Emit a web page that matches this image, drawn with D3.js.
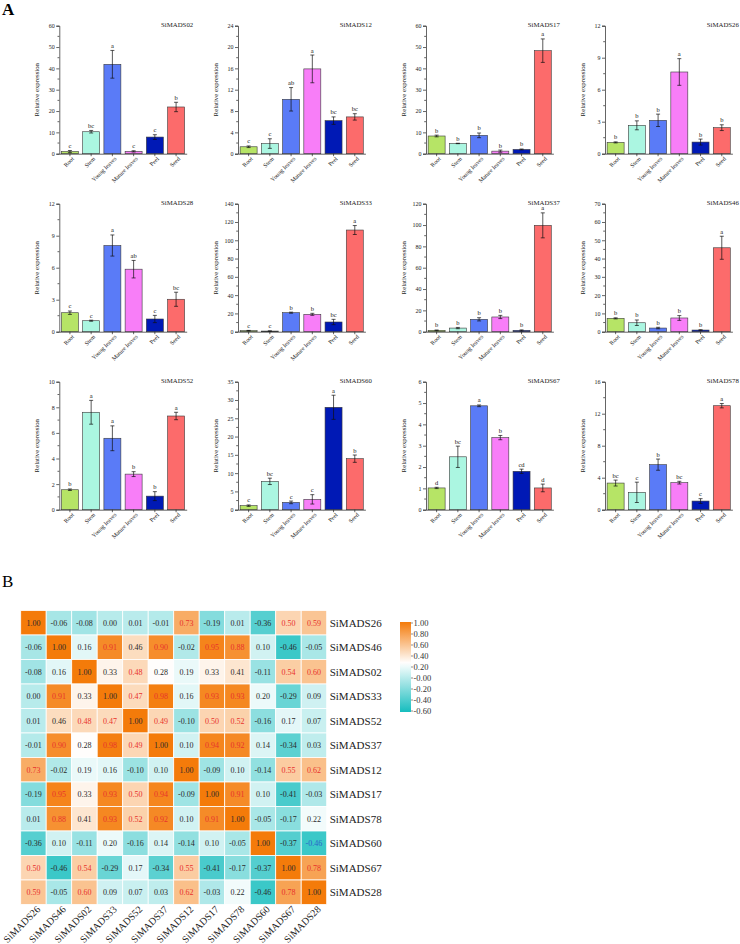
<!DOCTYPE html>
<html><head><meta charset="utf-8">
<script src="https://cdn.jsdelivr.net/npm/d3@7"></script>
<style>
body{margin:0;background:#fff;}
svg{display:block;font-family:"Liberation Serif","Times New Roman",serif;}
</style></head>
<body><svg id="c" width="740" height="944"></svg>
<script>
// ---------- DATA ----------
const tissues = ["Root","Stem","Young leaves","Mature leaves","Peel","Seed"];
const genes = ["SiMADS02","SiMADS12","SiMADS17","SiMADS26",
               "SiMADS28","SiMADS33","SiMADS37","SiMADS46",
               "SiMADS52","SiMADS60","SiMADS67","SiMADS78"];
const yMax  = [60,24,60,12, 12,140,120,70, 10,35,6,16];
const yStep = [10,4,10,3, 3,20,20,10, 2,5,1,4];
const means = [
  [1.0,10.3,41.9,1.1,7.8,21.9],
  [1.3,1.9,10.2,15.9,6.2,6.9],
  [8.3,4.8,8.6,1.2,2.0,48.3],
  [1.06,2.66,3.13,7.66,1.09,2.44],
  [1.78,1.03,8.08,5.86,1.19,3.04],
  [1.1,0.7,20.8,19.0,10.6,111.2],
  [1.3,3.4,11.6,13.8,1.2,99.7],
  [7.3,4.9,2.0,7.5,0.9,45.9],
  [1.56,7.61,5.58,2.78,1.06,7.32],
  [1.1,7.75,2.0,2.83,28.0,13.95],
  [1.02,2.48,4.87,3.38,1.8,1.02],
  [3.33,2.17,5.63,3.38,1.08,13.0]
];
const errs = [
  [0.5,0.6,6.5,0.3,1.1,2.2],
  [0.15,0.9,2.2,2.6,0.7,0.6],
  [0.4,0.1,1.1,0.5,0.2,5.5],
  [0.05,0.42,0.58,1.25,0.28,0.27],
  [0.16,0.05,0.99,0.82,0.34,0.66],
  [0.3,0.2,0.6,1.1,2.9,4.9],
  [0.3,0.6,1.5,1.5,0.5,11.7],
  [0.3,1.5,0.4,1.3,0.2,6.3],
  [0.06,0.93,0.97,0.19,0.35,0.29],
  [0.2,0.87,0.36,1.28,3.3,1.0],
  [0.03,0.5,0.04,0.1,0.1,0.18],
  [0.37,1.27,0.7,0.17,0.3,0.27]
];
const letters = [
  ["c","bc","a","c","c","b"],
  ["c","c","ab","a","bc","bc"],
  ["b","b","b","b","b","a"],
  ["b","b","b","a","b","b"],
  ["c","c","a","ab","c","bc"],
  ["c","c","b","b","bc","a"],
  ["b","b","b","b","b","a"],
  ["b","b","b","b","b","a"],
  ["b","a","a","b","b","a"],
  ["c","bc","c","c","a","b"],
  ["d","bc","a","b","cd","d"],
  ["bc","c","b","bc","c","a"]
];

const heatGenes = ["SiMADS26","SiMADS46","SiMADS02","SiMADS33","SiMADS52","SiMADS37",
                   "SiMADS12","SiMADS17","SiMADS78","SiMADS60","SiMADS67","SiMADS28"];
const corr = [
  [1.00,-0.06,-0.08,0.00,0.01,-0.01,0.73,-0.19,0.01,-0.36,0.50,0.59],
  [-0.06,1.00,0.16,0.91,0.46,0.90,-0.02,0.95,0.88,0.10,-0.46,-0.05],
  [-0.08,0.16,1.00,0.33,0.48,0.28,0.19,0.33,0.41,-0.11,0.54,0.60],
  [0.00,0.91,0.33,1.00,0.47,0.98,0.16,0.93,0.93,0.20,-0.29,0.09],
  [0.01,0.46,0.48,0.47,1.00,0.49,-0.10,0.50,0.52,-0.16,0.17,0.07],
  [-0.01,0.90,0.28,0.98,0.49,1.00,0.10,0.94,0.92,0.14,-0.34,0.03],
  [0.73,-0.02,0.19,0.16,-0.10,0.10,1.00,-0.09,0.10,-0.14,0.55,0.62],
  [-0.19,0.95,0.33,0.93,0.50,0.94,-0.09,1.00,0.91,0.10,-0.41,-0.03],
  [0.01,0.88,0.41,0.93,0.52,0.92,0.10,0.91,1.00,-0.05,-0.17,0.22],
  [-0.36,0.10,-0.11,0.20,-0.16,0.14,-0.14,0.10,-0.05,1.00,-0.37,-0.46],
  [0.50,-0.46,0.54,-0.29,0.17,-0.34,0.55,-0.41,-0.17,-0.37,1.00,0.78],
  [0.59,-0.05,0.60,0.09,0.07,0.03,0.62,-0.03,0.22,-0.46,0.78,1.00]
];
const blueCells = [[9,11]];
const legendTicks = [1.0,0.8,0.6,0.4,0.2,0.0,-0.2,-0.4,-0.6];
const legendLabels = ["1.00","0.80","0.60","0.40","0.20","-0.00","-0.20","-0.40","-0.60"];

// ---------- STYLE / LAYOUT ----------
const tissueColors = ["#b6e466","#abf6e1","#5a7bf7","#f87ef8","#0019b5","#fc6b6b"];
const colX = [59.3, 238, 426, 605];
const rowY = [25.7, 203.7, 381.7];
const pw = 127.4, ph = 128;

const svg = d3.select("#c");

svg.append("text").attr("x",2).attr("y",15).attr("font-size",17).attr("font-weight","bold").text("A");
svg.append("text").attr("x",2).attr("y",587).attr("font-size",17).text("B");

genes.forEach((g,i)=>{
  const x0 = colX[i%4], y0 = rowY[Math.floor(i/4)];
  const gp = svg.append("g").attr("transform",`translate(${x0},${y0})`);
  const x = d3.scaleBand().domain(tissues).range([0,pw]).paddingInner(0.2).paddingOuter(0.1);
  const y = d3.scaleLinear().domain([0,yMax[i]]).range([ph,0]);
  const major = d3.range(0, yMax[i]+1e-9, yStep[i]);
  const minor = d3.range(yStep[i]/2, yMax[i], yStep[i]);

  tissues.forEach((t,j)=>{
    gp.append("rect").attr("x",x(t)).attr("y",y(means[i][j]))
      .attr("width",x.bandwidth()).attr("height",ph-y(means[i][j]))
      .attr("fill",tissueColors[j]).attr("stroke","#3a3a3a").attr("stroke-width",0.6);
    const cx = x(t)+x.bandwidth()/2;
    const hi = y(means[i][j]+errs[i][j]), lo = y(Math.max(0,means[i][j]-errs[i][j]));
    gp.append("line").attr("x1",cx).attr("x2",cx).attr("y1",hi).attr("y2",lo).attr("stroke","#111").attr("stroke-width",0.7);
    [hi,lo].forEach(v=>gp.append("line").attr("x1",cx-2).attr("x2",cx+2).attr("y1",v).attr("y2",v).attr("stroke","#111").attr("stroke-width",0.7));
    gp.append("text").attr("x",cx).attr("y",hi-2.5).attr("text-anchor","middle").attr("font-size",6.5).attr("fill","#111").text(letters[i][j]);
  });

  const ya = gp.append("g").call(d3.axisLeft(y).tickValues(major).tickSize(3).tickFormat(d3.format("d")));
  ya.select(".domain").attr("stroke","#222").attr("stroke-width",0.7);
  ya.selectAll(".tick line").attr("stroke","#222").attr("stroke-width",0.7);
  ya.selectAll(".tick text").attr("font-size",6).attr("font-family","Liberation Serif").attr("fill","#222").attr("x",-4.5);
  minor.forEach(v=>gp.append("line").attr("x1",-1.8).attr("x2",0).attr("y1",y(v)).attr("y2",y(v)).attr("stroke","#222").attr("stroke-width",0.7));

  const xa = gp.append("g").attr("transform",`translate(0,${ph})`).call(d3.axisBottom(x).tickSize(2.5).tickSizeOuter(0));
  xa.select(".domain").attr("stroke","#222").attr("stroke-width",0.7);
  xa.selectAll(".tick line").attr("stroke","#222").attr("stroke-width",0.7);
  xa.selectAll(".tick text").attr("font-size",6).attr("font-family","Liberation Serif").attr("fill","#222")
    .attr("text-anchor","end").attr("transform","translate(3,4) rotate(-45)").attr("dy","0.35em").attr("y",0).attr("x",0);

  gp.append("text").attr("transform",`translate(-20,${ph/2}) rotate(-90)`).attr("text-anchor","middle")
    .attr("font-size",6.8).attr("fill","#222").text("Relative expression");
  gp.append("text").attr("x",pw+6.5).attr("y",1).attr("text-anchor","end").attr("font-size",6.8).attr("fill","#222").text(g);
});

// ---------- HEATMAP ----------
const hx0 = 20.7, hy0 = 610.5, hw = 306, hh = 294;
const hxs = d3.scaleBand().domain(heatGenes).range([hx0,hx0+hw]);
const hys = d3.scaleBand().domain(heatGenes).range([hy0,hy0+hh]);
const color = d3.scaleLinear().domain([-0.6,0.27,1.0]).range(["#16bdbe","#ffffff","#f47b0a"]).clamp(true);
const hg = svg.append("g");
corr.forEach((row,r)=>row.forEach((v,c)=>{
  hg.append("rect").attr("x",hxs(heatGenes[c])).attr("y",hys(heatGenes[r]))
    .attr("width",hxs.bandwidth()).attr("height",hys.bandwidth())
    .attr("fill",color(v)).attr("stroke","#fff").attr("stroke-width",0.8);
  const blue = blueCells.some(b=>b[0]===r&&b[1]===c);
  const fill = blue ? "#2a62c8" : (v>=0.47 && v<0.995 ? "#e8322c" : "#2a2a2a");
  hg.append("text").attr("x",hxs(heatGenes[c])+hxs.bandwidth()/2).attr("y",hys(heatGenes[r])+hys.bandwidth()/2)
    .attr("dy","0.35em").attr("text-anchor","middle").attr("font-size",8).attr("fill",fill).text(v.toFixed(2));
}));
heatGenes.forEach(g=>{
  hg.append("text").attr("x",hx0+hw+3).attr("y",hys(g)+hys.bandwidth()/2).attr("dy","0.35em")
    .attr("font-size",11).attr("fill","#222").text(g);
  hg.append("text").attr("text-anchor","end")
    .attr("transform",`translate(${hxs(g)+hxs.bandwidth()/2+5},${hy0+hh+3}) rotate(-45)`)
    .attr("dy","0.35em").attr("font-size",10).attr("fill","#222").text(g);
});

const ly = d3.scaleLinear().domain([1.0,-0.6]).range([623,711]);
const defs = svg.append("defs");
const grad = defs.append("linearGradient").attr("id","lg").attr("x1",0).attr("x2",0).attr("y1",0).attr("y2",1);
d3.range(0,1.0001,0.05).forEach(t=>{
  const v = 1.0 - t*1.6;
  grad.append("stop").attr("offset",t).attr("stop-color",color(v));
});
svg.append("rect").attr("x",400).attr("y",ly(1.0)-1).attr("width",11).attr("height",ly(-0.6)-ly(1.0)+2).attr("fill","url(#lg)");
legendTicks.forEach((t,k)=>{
  svg.append("line").attr("x1",411).attr("x2",413).attr("y1",ly(t)).attr("y2",ly(t)).attr("stroke","#444").attr("stroke-width",0.6);
  svg.append("text").attr("x",413.5).attr("y",ly(t)).attr("dy","0.35em").attr("font-size",8.5).attr("fill","#333").text(legendLabels[k]);
});
</script></body></html>
